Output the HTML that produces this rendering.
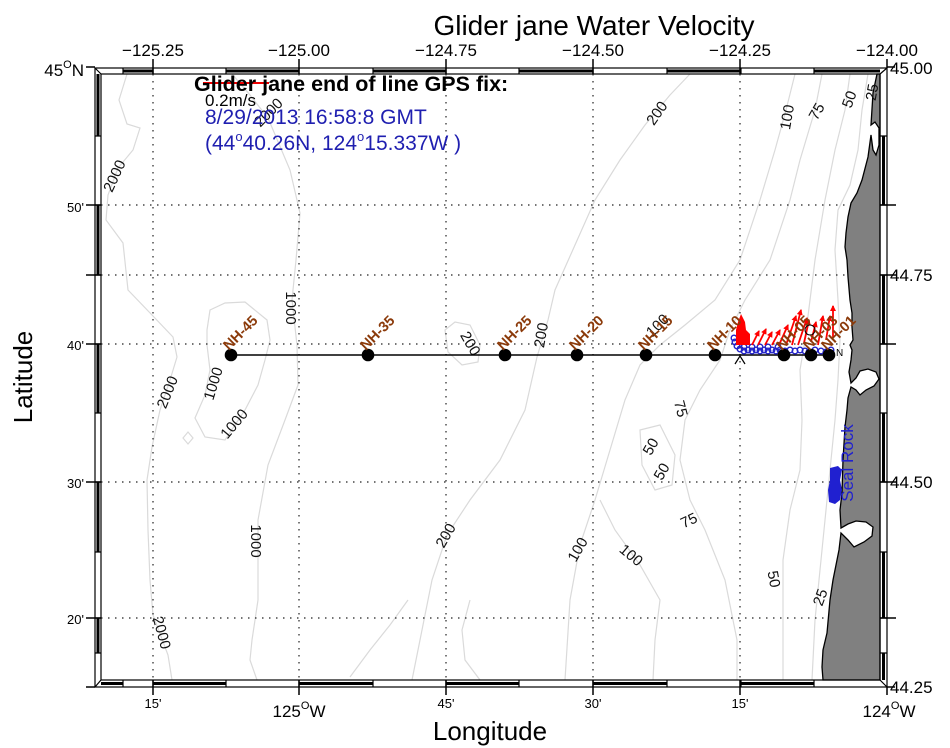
<!DOCTYPE html>
<html><head><meta charset="utf-8"><style>html,body{margin:0;padding:0;background:#fff}svg{display:block}</style></head>
<body>
<svg width="950" height="748" viewBox="0 0 950 748" xmlns="http://www.w3.org/2000/svg" font-family="'Liberation Sans', Arial, sans-serif">
<defs>
<marker id="ah" markerWidth="6" markerHeight="6" refX="5" refY="3" orient="auto" markerUnits="userSpaceOnUse"><path d="M0,0 L6,3 L0,6 Z" fill="#f00"/></marker>
</defs>
<rect width="950" height="748" fill="#fff"/>

<!-- contours -->
<g fill="none" stroke="#dadada" stroke-width="1.2">
<path d="M127 74 L119 100 L127 124 L140 128 L133 150 L118 168 L108 195 L106 220 L123 243 L128 290 L152 315 L173 337 L177 357 L170 380 L160 410 L152 447 L147 480 L148 530 L150 580 L153 615 L168 655 L172 680"/>
<path d="M207 330 L210 310 L225 303 L245 302 L267 320 L270 340 L265 360 L258 385 L245 410 L225 440 L205 437 L195 418 L205 395 L210 370 L207 345 Z"/>
<path d="M183 438 L188 432 L193 438 L188 444 Z"/>
<path d="M232 74 L250 95 L268 118 L290 170 L300 213 L296 260 L292 300 L297 345 L298 385 L285 420 L268 465 L258 520 L258 600 L252 640 L250 660 L257 680"/>
<path d="M408 600 L390 625 L370 650 L350 677"/>
<path d="M470 600 L462 630 L465 660 L480 680"/>
<path d="M690 74 L670 95 L645 125 L620 160 L595 200 L575 245 L555 290 L548 320 L537 357 L525 410 L500 460 L470 500 L447 535 L432 580 L420 640 L412 680"/>
<path d="M445 330 L455 322 L470 325 L480 345 L478 362 L462 365 L448 352 Z"/>
<path d="M795 74 L786 110 L775 150 L760 200 L740 260 L715 300 L685 325 L660 345 L640 365 L625 400 L610 450 L595 500 L580 545 L570 600 L565 680"/>
<path d="M600 500 L615 530 L640 565 L660 600 L655 640 L653 680"/>
<path d="M822 74 L815 110 L800 160 L790 200 L770 260 L745 300 L730 330 L720 360 L700 390 L685 420 L680 460 L690 500 L705 530 L725 580 L737 640 L737 680"/>
<path d="M640 430 L660 425 L675 455 L672 485 L655 490 L642 465 Z"/>
<path d="M850 74 L845 110 L835 150 L825 200 L815 260 L810 300 L805 340 L800 370 L802 420 L800 470 L790 510 L783 560 L783 620 L783 680"/>
<path d="M868 74 L862 110 L858 150 L850 185 L838 210 L835 250 L838 300 L840 340 L838 380 L835 420 L830 470 L825 520 L820 570 L815 620 L812 680"/>
</g>

<!-- grid -->
<g stroke="#222" stroke-width="1.2" stroke-dasharray="1.5 5.5" fill="none">
<path d="M153 74 V680 M299 74 V680 M446 74 V680 M593 74 V680 M740 74 V680"/>
<path d="M101 205 H880 M101 275 H880 M101 344 H880 M101 482 H880 M101 618 H880"/>
</g>

<!-- land -->
<path d="M880 74 L877 74 L873 93 L871 125 L875 122 L879 128 L879 145 L876 155 L873 150 L871 135 L868 157 L862 180 L857 193 L851 203 L848 217 L846 233 L845 247 L847 260 L848 277 L850 300 L852 313 L852 327 L853 340 L850 345 L852 350 L851 360 L849 372 L851 383 L856 378 L860 371 L868 369 L876 372 L879 379 L874 386 L866 390 L860 395 L856 390 L851 387 L848 398 L847 410 L845 427 L843 460 L842 493 L840 510 L841 528 L848 524 L856 521 L866 522 L873 527 L872 536 L864 542 L854 547 L848 540 L841 533 L839 550 L837 560 L833 580 L830 600 L827 633 L823 650 L822 667 L823 680 L880 680 Z" fill="#808080" stroke="#000" stroke-width="1.3"/>

<!-- contour labels -->
<g font-size="15" fill="#111" text-anchor="middle">
<text transform="translate(272,116) rotate(-45)">2000</text>
<text transform="translate(119,178) rotate(-65)">2000</text>
<text transform="translate(286,308) rotate(90)">1000</text>
<text transform="translate(172,394) rotate(-68)">2000</text>
<text transform="translate(218,385) rotate(-73)">1000</text>
<text transform="translate(238,427) rotate(-50)">1000</text>
<text transform="translate(251,541) rotate(90)">1000</text>
<text transform="translate(157,634) rotate(75)">2000</text>
<text transform="translate(466,346) rotate(60)">200</text>
<text transform="translate(546,336) rotate(-80)">200</text>
<text transform="translate(450,538) rotate(-60)">200</text>
<text transform="translate(661,116) rotate(-55)">200</text>
<text transform="translate(661,329) rotate(-45)">100</text>
<text transform="translate(582,552) rotate(-60)">100</text>
<text transform="translate(628,559) rotate(40)">100</text>
<text transform="translate(676,410) rotate(75)">75</text>
<text transform="translate(691,525) rotate(-25)">75</text>
<text transform="translate(655,449) rotate(-60)">50</text>
<text transform="translate(666,474) rotate(-60)">50</text>
<text transform="translate(769,580) rotate(80)">50</text>
<text transform="translate(825,599) rotate(-70)">25</text>
<text transform="translate(792,118) rotate(-80)">100</text>
<text transform="translate(821,114) rotate(-60)">75</text>
<text transform="translate(854,101) rotate(-70)">50</text>
<text transform="translate(877,93) rotate(-80)">25</text>
</g>

<!-- cross-shelf line -->
<line x1="231" y1="355" x2="829" y2="355" stroke="#000" stroke-width="1.6"/>

<!-- blue glider track -->
<g fill="none" stroke="#2323c8" stroke-width="1.4">
<circle cx="734" cy="338" r="2.8"/><circle cx="735" cy="342" r="2.8"/><circle cx="737" cy="346" r="2.8"/><circle cx="740" cy="349" r="2.8"/>
<circle cx="744" cy="351" r="2.8"/><circle cx="748" cy="350" r="2.8"/><circle cx="752" cy="351" r="2.8"/><circle cx="756" cy="350" r="2.8"/>
<circle cx="760" cy="351" r="2.8"/><circle cx="764" cy="350" r="2.8"/><circle cx="768" cy="351" r="2.8"/><circle cx="772" cy="350" r="2.8"/>
<circle cx="776" cy="351" r="2.8"/><circle cx="780" cy="350" r="2.8"/><circle cx="785" cy="351" r="2.8"/><circle cx="790" cy="350" r="2.8"/>
<circle cx="795" cy="351" r="2.8"/><circle cx="800" cy="350" r="2.8"/><circle cx="805" cy="351" r="2.8"/><circle cx="809" cy="352" r="2.8"/>
<circle cx="815" cy="350" r="2.8"/><circle cx="821" cy="351" r="2.8"/><circle cx="826" cy="352" r="2.8"/><circle cx="831" cy="350" r="2.8"/>
<circle cx="744" cy="347" r="2.8"/><circle cx="752" cy="347" r="2.8"/><circle cx="760" cy="347" r="2.8"/><circle cx="768" cy="347" r="2.8"/><circle cx="778" cy="347" r="2.8"/>
</g>

<!-- red velocity vectors -->
<path d="M736 345 L736 330 L738 322 L741 314 L745 322 L746 330 L750 334 L750 345 Z" fill="#f00"/>
<g stroke="#f00" stroke-width="1.8" marker-end="url(#ah)">
<line x1="752" y1="345" x2="759" y2="331"/>
<line x1="758" y1="345" x2="766" y2="329"/>
<line x1="765" y1="345" x2="772" y2="332"/>
<line x1="772" y1="345" x2="780" y2="330"/>
<line x1="779" y1="345" x2="788" y2="325"/>
<line x1="786" y1="345" x2="796" y2="316"/>
<line x1="792" y1="345" x2="801" y2="310"/>
<line x1="798" y1="345" x2="807" y2="318"/>
<line x1="804" y1="343" x2="809" y2="320"/>
<line x1="811" y1="342" x2="816" y2="322"/>
<line x1="818" y1="345" x2="823" y2="316"/>
<line x1="826" y1="340" x2="830" y2="316"/>
<line x1="833" y1="338" x2="833" y2="306"/>
</g>
<circle cx="810" cy="330" r="5" fill="none" stroke="#000" stroke-width="1"/>
<path d="M735 364 L740 356 L745 364" fill="none" stroke="#000" stroke-width="1.2"/>
<text x="836" y="356" font-size="10" fill="#000">N</text>

<g fill="#000">
<circle cx="231" cy="355" r="6.3"/><circle cx="368" cy="355" r="6.3"/><circle cx="505" cy="355" r="6.3"/>
<circle cx="577" cy="355" r="6.3"/><circle cx="646" cy="355" r="6.3"/><circle cx="715" cy="355" r="6.3"/>
<circle cx="784" cy="355" r="6.3"/><circle cx="811" cy="355" r="6.3"/><circle cx="829" cy="355" r="6.3"/>
</g>
<g font-size="14.5" font-weight="bold" fill="#8b3a0a">
<text transform="translate(229,351) rotate(-45)">NH-45</text>
<text transform="translate(366,351) rotate(-45)">NH-35</text>
<text transform="translate(503,351) rotate(-45)">NH-25</text>
<text transform="translate(575,351) rotate(-45)">NH-20</text>
<text transform="translate(644,351) rotate(-45)">NH-15</text>
<text transform="translate(713,351) rotate(-45)">NH-10</text>
<text transform="translate(782,351) rotate(-45)">NH-05</text>
<text transform="translate(809,351) rotate(-45)">NH-03</text>
<text transform="translate(827,351) rotate(-45)">NH-01</text>
</g>

<!-- Seal Rock -->
<path d="M830 468 L838 466 L842 470 L840 480 L842 490 L840 500 L835 504 L829 502 L828 490 L830 480 Z" fill="#2020d0"/>
<text transform="translate(853,463) rotate(-90)" font-size="17" fill="#2020d0" text-anchor="middle">Seal Rock</text>

<!-- frame -->
<g fill="#000">
<rect x="123" y="69.5" width="30" height="3"/><rect x="226" y="69.5" width="73" height="3"/><rect x="373" y="69.5" width="73" height="3"/>
<rect x="519" y="69.5" width="74" height="3"/><rect x="667" y="69.5" width="74" height="3"/><rect x="814" y="69.5" width="66" height="3"/>
<rect x="101" y="682" width="22" height="3"/><rect x="153" y="682" width="73" height="3"/><rect x="299" y="682" width="74" height="3"/>
<rect x="446" y="682" width="73" height="3"/><rect x="593" y="682" width="74" height="3"/><rect x="741" y="682" width="73" height="3"/>
<rect x="96.5" y="74" width="3" height="62"/><rect x="96.5" y="205" width="3" height="70"/><rect x="96.5" y="344" width="3" height="69"/>
<rect x="96.5" y="482" width="3" height="70"/><rect x="96.5" y="618" width="3" height="35"/>
<rect x="882" y="136" width="3" height="69"/><rect x="882" y="275" width="3" height="69"/><rect x="882" y="413" width="3" height="69"/>
<rect x="882" y="552" width="3" height="66"/><rect x="882" y="653" width="3" height="27"/>
</g>
<g stroke="#000" stroke-width="1.2" fill="none">
<rect x="95" y="68" width="792" height="619"/>
<rect x="101" y="74" width="779" height="606"/>
<path d="M95 68 L101 74 M887 68 L880 74 M95 687 L101 680 M887 687 L880 680"/>
<path d="M123 68 V74 M153 68 V74 M226 68 V74 M299 68 V74 M373 68 V74 M446 68 V74 M519 68 V74 M593 68 V74 M667 68 V74 M741 68 V74 M814 68 V74"/>
<path d="M123 680 V687 M153 680 V687 M226 680 V687 M299 680 V687 M373 680 V687 M446 680 V687 M519 680 V687 M593 680 V687 M667 680 V687 M741 680 V687 M814 680 V687"/>
<path d="M95 136 H101 M95 205 H101 M95 275 H101 M95 344 H101 M95 413 H101 M95 482 H101 M95 552 H101 M95 618 H101 M95 653 H101"/>
<path d="M880 136 H887 M880 205 H887 M880 275 H887 M880 344 H887 M880 413 H887 M880 482 H887 M880 552 H887 M880 618 H887 M880 653 H887"/>
</g>
<g stroke="#000" stroke-width="1.5">
<path d="M153 59 V74 M299 59 V74 M446 59 V74 M593 59 V74 M740 59 V74 M887 59 V68"/>
<path d="M153 680 V695 M299 680 V695 M446 680 V695 M593 680 V695 M740 680 V695 M887 687 V695"/>
<path d="M86 67 H95 M86 205 H101 M86 275 H101 M86 344 H101 M86 482 H101 M86 618 H101 M86 687 H95"/>
<path d="M887 67 H895 M880 205 H896 M880 275 H896 M880 344 H896 M880 482 H896 M880 618 H896 M887 687 H895"/>
</g>

<!-- axis labels -->
<text x="594" y="35" font-size="28" text-anchor="middle" fill="#000">Glider jane Water Velocity</text>
<g font-size="17" text-anchor="middle" fill="#000">
<text x="153" y="56">−125.25</text>
<text x="299" y="56">−125.00</text>
<text x="446" y="56">−124.75</text>
<text x="593" y="56">−124.50</text>
<text x="740" y="56">−124.25</text>
<text x="887" y="56">−124.00</text>
</g>
<g font-size="17" fill="#000">
<text x="890" y="74">45.00</text>
<text x="890" y="281">44.75</text>
<text x="890" y="488">44.50</text>
<text x="890" y="693">44.25</text>
</g>
<text x="84" y="76" font-size="17" text-anchor="end" fill="#000">45<tspan font-size="11" dy="-8">O</tspan><tspan dy="8">N</tspan></text>
<g font-size="13" text-anchor="end" fill="#000">
<text x="84" y="212">50'</text>
<text x="84" y="350">40'</text>
<text x="84" y="488">30'</text>
<text x="84" y="624">20'</text>
</g>
<g font-size="13" text-anchor="middle" fill="#000">
<text x="153" y="708">15'</text>
<text x="446" y="708">45'</text>
<text x="593" y="708">30'</text>
<text x="740" y="708">15'</text>
</g>
<text x="299" y="717" font-size="17" text-anchor="middle" fill="#000">125<tspan font-size="11" dy="-8">O</tspan><tspan dy="8">W</tspan></text>
<text x="889" y="717" font-size="17" text-anchor="middle" fill="#000">124<tspan font-size="11" dy="-8">O</tspan><tspan dy="8">W</tspan></text>
<text x="490" y="740" font-size="26" text-anchor="middle" fill="#000">Longitude</text>
<text transform="translate(32,377) rotate(-90)" font-size="26" text-anchor="middle" fill="#000">Latitude</text>

<!-- GPS fix text -->
<line x1="203" y1="83" x2="269" y2="83" stroke="#e00" stroke-width="2"/>
<text x="194" y="91" font-size="21.5" font-weight="bold" fill="#000">Glider jane end of line GPS fix:</text>
<text x="205" y="106" font-size="17" fill="#000">0.2m/s</text>
<text x="205" y="124" font-size="21" fill="#1f1fb0">8/29/2013 16:58:8 GMT</text>
<text x="205" y="150" font-size="21" fill="#1f1fb0">(44<tspan font-size="13" dy="-9">o</tspan><tspan dy="9">40.26N, 124</tspan><tspan font-size="13" dy="-9">o</tspan><tspan dy="9">15.337W )</tspan></text>
</svg>
</body></html>
